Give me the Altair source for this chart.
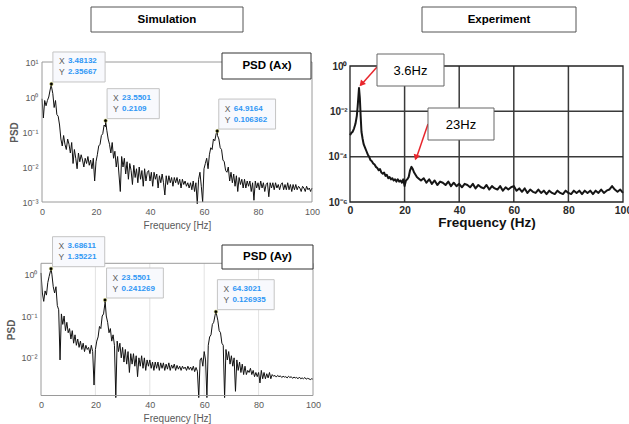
import altair as alt
import pandas as pd

W, H = 629, 424
FONT = "Liberation Sans"

# ---------------- data ----------------
FREQ_STEP = 0.5  # Hz between spectrum bins

# log10(PSD) of simulated Ax, 0..100 Hz every 0.5 Hz
AX_LOG = [
    -0.05, -0.60, -0.10, -0.25, -0.10, 0.00, 0.20, 0.30, 0.10, -0.30,
    -0.10, -0.50, -0.55, -0.80, -1.20, -1.40, -1.10, -1.35, -1.50, -1.20,
    -1.35, -1.60, -1.30, -1.90, -1.50, -1.75, -2.05, -1.60, -1.85, -1.65,
    -1.80, -2.00, -1.75, -1.90, -1.70, -1.95, -1.80, -2.05, -1.75, -2.40,
    -1.85, -1.65, -1.40, -1.35, -1.10, -1.05, -0.80, -0.85, -0.95, -1.20,
    -1.35, -1.60, -1.30, -1.75, -1.55, -2.00, -1.70, -2.20, -2.70, -1.70,
    -2.00, -1.75, -2.20, -1.85, -2.35, -1.90, -2.10, -2.50, -1.95, -2.30,
    -2.05, -2.45, -2.00, -2.35, -2.10, -2.55, -2.05, -2.40, -2.15, -2.10,
    -2.40, -2.15, -2.55, -2.15, -2.35, -2.20, -2.60, -2.25, -2.45, -2.20,
    -2.45, -2.80, -2.25, -2.50, -2.25, -2.45, -2.30, -2.55, -2.30, -2.45,
    -2.30, -2.50, -2.35, -2.60, -2.35, -2.50, -2.40, -2.55, -2.45, -2.60,
    -2.45, -2.65, -2.40, -2.70, -2.45, -3.05, -2.35, -2.15, -2.55, -3.00,
    -2.05, -1.90, -1.75, -2.05, -1.65, -1.45, -1.50, -1.20, -1.25, -1.05,
    -1.10, -1.20, -1.45, -1.50, -1.80, -1.85, -2.10, -2.15, -2.00, -2.40,
    -2.15, -2.45, -2.20, -2.55, -2.25, -2.70, -2.30, -2.50, -2.35, -2.60,
    -2.35, -2.60, -2.40, -2.55, -2.40, -2.70, -2.45, -2.95, -2.40, -2.60,
    -2.45, -2.65, -2.40, -2.60, -2.45, -2.70, -2.50, -2.45, -2.85, -2.45,
    -2.60, -2.45, -2.65, -2.45, -2.60, -2.50, -2.65, -2.50, -2.45, -2.65,
    -2.50, -2.65, -2.45, -2.65, -2.50, -2.70, -2.50, -2.65, -2.50, -2.65,
    -2.55, -2.60, -2.70, -2.55, -2.60, -2.70, -2.55, -2.65, -2.60, -2.70, -2.60,
]

# log10(PSD) of simulated Ay, 0..100 Hz every 0.5 Hz
AY_LOG = [
    0.03, -0.45, -0.65, -0.40, -0.50, -0.20, -0.05, 0.08, 0.00, -0.30,
    -0.45, -0.30, -0.75, -0.85, -2.05, -0.95, -1.20, -1.00, -1.35, -1.15,
    -1.40, -1.30, -1.55, -1.35, -1.65, -1.45, -1.70, -1.55, -1.75, -1.60,
    -1.80, -1.65, -1.85, -1.70, -1.80, -1.75, -1.90, -1.70, -1.85, -2.65,
    -1.80, -1.60, -1.50, -1.25, -1.30, -1.00, -0.95, -0.70, -1.00, -1.15,
    -1.40, -1.30, -1.60, -1.45, -1.70, -2.95, -1.60, -1.85, -1.65, -2.00,
    -1.75, -2.10, -1.80, -2.15, -1.85, -2.35, -1.90, -2.15, -1.90, -2.20,
    -1.95, -2.45, -2.00, -2.20, -1.95, -2.25, -2.00, -2.30, -2.05, -2.20,
    -2.05, -2.25, -2.10, -2.30, -2.10, -2.25, -2.10, -2.30, -2.12, -2.25,
    -2.12, -2.30, -2.15, -2.27, -2.12, -2.30, -2.17, -2.25, -2.15, -2.30,
    -2.18, -2.27, -2.20, -2.30, -2.20, -2.26, -2.22, -2.30, -2.20, -2.28,
    -2.22, -2.30, -2.20, -2.33, -2.23, -2.32, -2.95, -2.05, -2.00, -2.20,
    -1.85, -2.05, -2.95, -1.70, -1.50, -1.45, -1.20, -1.15, -0.98, -0.95,
    -1.10, -1.35, -1.40, -1.65, -1.70, -2.95, -1.80, -2.05, -1.85, -2.15,
    -1.95, -2.20, -2.00, -2.80, -2.05, -2.30, -2.10, -2.35, -2.15, -2.40,
    -2.20, -2.40, -2.30, -2.35, -2.25, -2.40, -2.30, -2.45, -2.35, -2.45,
    -2.35, -2.60, -2.30, -2.50, -2.35, -2.50, -2.38, -2.48, -2.35, -2.50,
    -2.40, -2.44, -2.42, -2.46, -2.42, -2.45, -2.43, -2.47, -2.44, -2.46,
    -2.45, -2.48, -2.44, -2.47, -2.45, -2.49, -2.46, -2.48, -2.47, -2.50,
    -2.46, -2.50, -2.48, -2.50, -2.47, -2.51, -2.49, -2.50, -2.52, -2.50, -2.51,
]

# data tips of the simulation
AX_PEAK_F = [3.48132, 23.5501, 64.9164]
AX_PEAK_V = [2.35667, 0.2109, 0.106362]
AY_PEAK_F = [3.68611, 23.5501, 64.3021]
AY_PEAK_V = [1.35221, 0.241269, 0.126935]

# experiment spectrum (frequency, log10 PSD)
EXP_F = [
    0, 0.5, 1, 1.5, 2, 2.5, 2.8, 3.1, 3.3, 3.6, 3.9, 4.2, 4.6, 5, 5.5, 6, 6.5,
    7, 7.5, 8, 8.5, 9, 9.5, 10, 10.5, 11, 11.5, 12, 12.5, 13, 13.5, 14, 14.5,
    15, 15.5, 16, 16.5, 17, 17.5, 18, 18.5, 19, 19.5, 20, 20.5, 21, 21.5, 22,
    22.5, 23, 23.5, 24, 24.5, 25, 26, 27, 28, 29, 30, 31, 32, 33, 34, 35, 36,
    37, 38, 39, 40, 41, 42, 43, 44, 45, 46, 47, 48, 49, 50, 51, 52, 53, 54, 55,
    56, 57, 58, 59, 60, 61, 62, 63, 64, 65, 66, 67, 68, 69, 70, 71, 72, 73, 74,
    75, 76, 77, 78, 79, 80, 81, 82, 83, 84, 85, 86, 87, 88, 89, 90, 91, 92, 93,
    94, 95, 96, 97, 98, 99, 100,
]
EXP_LOG = [
    -3.05, -2.95, -2.90, -2.75, -2.55, -2.20, -1.80, -1.30, -0.97, -1.40, -2.20,
    -2.90, -3.20, -3.45, -3.60, -3.75, -3.90, -4.00, -4.15, -4.20, -4.30, -4.35,
    -4.45, -4.50, -4.60, -4.55, -4.70, -4.75, -4.70, -4.85, -4.80, -4.95, -4.90,
    -5.00, -4.95, -5.05, -5.00, -5.10, -5.00, -5.10, -5.05, -5.15, -5.00, -5.30,
    -5.05, -5.00, -4.90, -4.60, -4.45, -4.55, -4.70, -4.80, -4.90, -4.95, -5.05,
    -4.95, -5.15, -5.00, -5.20, -5.05, -5.25, -5.10, -5.15, -5.25, -5.10, -5.30,
    -5.15, -5.30, -5.20, -5.35, -5.20, -5.25, -5.35, -5.20, -5.40, -5.25, -5.35,
    -5.40, -5.25, -5.45, -5.30, -5.40, -5.45, -5.30, -5.50, -5.35, -5.45, -5.35,
    -5.30, -5.50, -5.40, -5.55, -5.40, -5.60, -5.45, -5.55, -5.60, -5.45, -5.60,
    -5.50, -5.65, -5.50, -5.60, -5.65, -5.50, -5.60, -5.65, -5.50, -5.60, -5.65,
    -5.50, -5.60, -5.50, -5.65, -5.50, -5.60, -5.50, -5.65, -5.50, -5.60, -5.45,
    -5.60, -5.50, -5.45, -5.30, -5.45, -5.55, -5.45, -5.60,
]

X_TICKS = [0, 20, 40, 60, 80, 100]
GRID_F = [20, 40, 60, 80]
AX_Y_TICKS = [10, 1, 0.1, 0.01, 0.001]
AY_Y_TICKS = [1, 0.1, 0.01]
EXP_Y_TICKS = [1, 1e-2, 1e-4, 1e-6]
EXP_GRID_V = [1e-2, 1e-4]

SUP = ("'10' + (round(log(datum.value)/LN10) < 0 ? '\u207b' : '') + "
       "['\u2070','\u00b9','\u00b2','\u00b3','\u2074','\u2075','\u2076']"
       "[abs(round(log(datum.value)/LN10))]")


def curve_df(f, v):
    return pd.DataFrame({"f": f, "v": v}).sort_values("f")


ax_f = [i * FREQ_STEP for i in range(len(AX_LOG))] + AX_PEAK_F
ax_v = [10 ** l for l in AX_LOG] + AX_PEAK_V
ay_f = [i * FREQ_STEP for i in range(len(AY_LOG))] + AY_PEAK_F
ay_v = [10 ** l for l in AY_LOG] + AY_PEAK_V
ax_curve = curve_df(ax_f, ax_v)
ay_curve = curve_df(ay_f, ay_v)
exp_curve = curve_df(EXP_F, [10 ** l for l in EXP_LOG])


def tips_df(f, v):
    xs = [f"{a:.6g}" for a in f]
    ys = [f"{b:.6g}" for b in v]
    return pd.DataFrame({"f": f, "v": v, "xs": xs, "ys": ys})


def panel(curve, cfg, tips=None, grid_x=None, grid_y=None, psd_box=None):
    xs = alt.Scale(domain=[0, 100], range=cfg["xr"], nice=False, zero=False)
    ys = alt.Scale(type="log", domain=cfg["yd"], range=cfg["yr"], nice=False)
    xax = alt.Axis(orient="bottom", offset=cfg["yr"][0] - H, values=X_TICKS,
                   format="d", title=cfg["xtitle"], domain=False, ticks=False,
                   tickSize=0, grid=False, labelPadding=cfg["xlp"],
                   labelFlush=False, labelOverlap=False, labelFont=FONT,
                   labelFontSize=cfg["xls"], labelColor=cfg["lc"],
                   labelFontWeight=cfg["lw"], titleFont=FONT,
                   titleFontSize=cfg["xts"], titleColor=cfg["tc"],
                   titleFontWeight=cfg["lw"], titleY=cfg["xty"],
                   titleBaseline="middle")
    yax = alt.Axis(orient="left", offset=-cfg["xr"][0], values=cfg["yt"],
                   labelExpr=SUP, title=cfg["ytitle"], domain=False,
                   ticks=False, tickSize=0, grid=False, labelPadding=cfg["ylp"],
                   labelFlush=False, labelOverlap=False, labelFont=FONT,
                   labelFontSize=cfg["yls"], labelColor=cfg["lc"],
                   labelFontWeight=cfg["lw"], titleFont=FONT,
                   titleFontSize=10, titleColor=cfg["tc"],
                   titleX=cfg["ytx"], titleBaseline="middle")

    def X(field="f"):
        return alt.X(f"{field}:Q", scale=xs, axis=xax)

    def Y(field="v"):
        return alt.Y(f"{field}:Q", scale=ys, axis=yax)

    ymin, ymax = cfg["yd"]
    frame_df = pd.DataFrame({"f": [0], "f2": [100], "v": [ymin], "v2": [ymax]})
    layers = []
    if grid_x is not None:
        gdf = pd.DataFrame({"f": grid_x, "v": [ymin] * len(grid_x),
                            "v2": [ymax] * len(grid_x)})
        layers.append(alt.Chart(gdf).mark_rule(
            color=cfg["gc"], strokeWidth=cfg["gw"]).encode(
            x=X(), y=Y(), y2="v2:Q"))
    if grid_y is not None:
        gdf = pd.DataFrame({"v": grid_y, "f": [0] * len(grid_y),
                            "f2": [100] * len(grid_y)})
        layers.append(alt.Chart(gdf).mark_rule(
            color=cfg["gc"], strokeWidth=cfg["gw"]).encode(
            x=X(), x2="f2:Q", y=Y()))
    layers.append(alt.Chart(curve).mark_line(
        color=cfg["lcol"], strokeWidth=cfg["lwid"], clip=True,
        strokeJoin="round").encode(x=X(), y=Y(), order="f:Q"))
    layers.append(alt.Chart(frame_df).mark_rect(
        fillOpacity=0, stroke=cfg["fc"], strokeWidth=cfg["fw"]).encode(
        x=X(), x2="f2:Q", y=Y(), y2="v2:Q"))
    if tips is not None:
        for i in range(len(tips)):
            row = tips.iloc[[i]]
            n = max(len(row["xs"].iloc[0]), len(row["ys"].iloc[0]))
            w = 20 + 4.6 * n
            layers.append(alt.Chart(row).mark_rect(
                fill="#f8f9fd", stroke="#c4c4c4", strokeWidth=1,
                xOffset=1.5, x2Offset=1.5 + w, yOffset=-32, y2Offset=-2).encode(
                x=X(), x2="f:Q", y=Y(), y2="v:Q"))
        base = alt.Chart(tips)
        for dy, key, lab in ((-22.5, "xs", "X"), (-11.5, "ys", "Y")):
            layers.append(base.mark_text(
                text=lab, align="left", baseline="middle", dx=7.5, dy=dy,
                font=FONT, fontSize=8.5, color="#606060").encode(x=X(), y=Y()))
            layers.append(base.mark_text(
                align="left", baseline="middle", dx=16.5, dy=dy, font=FONT,
                fontSize=8, fontWeight="bold", color="#2f97f5").encode(
                x=X(), y=Y(), text=f"{key}:N"))
        layers.append(base.mark_circle(size=12, color="black", opacity=1,
                                       stroke="#c8c860", strokeWidth=0.5).encode(
            x=X(), y=Y()))
    if psd_box is not None:
        txt, xo, x2o, yo, y2o, dx, dy = psd_box
        layers.append(alt.Chart(frame_df).mark_rect(
            fill="white", stroke="#333", strokeWidth=1, xOffset=xo,
            x2Offset=x2o, yOffset=yo, y2Offset=y2o).encode(
            x=X("f2"), x2="f2:Q", y=Y("v2"), y2="v2:Q"))
        layers.append(alt.Chart(frame_df).mark_text(
            text=txt, font=FONT, fontSize=11.5, fontWeight="bold",
            color="black", align="center", baseline="middle", dx=dx,
            dy=dy).encode(x=X("f2"), y=Y("v2")))
    return alt.layer(*layers)


SIM = dict(lc="#5a5a5a", tc="#5a5a5a", lw="normal", xls=9, yls=9, xts=10,
           xlp=5, ylp=4, xty=23, fc="#9a9a9a", fw=1, gc="#e2e2e2", gw=1,
           lwid=1.0, lcol="#111111", xtitle="Frequency [Hz]", ytitle="PSD")

p1 = panel(ax_curve, dict(SIM, xr=[42, 312], yr=[202, 62], yd=[1e-3, 10],
                          yt=AX_Y_TICKS, ytx=-28),
           tips=tips_df(AX_PEAK_F, AX_PEAK_V),
           psd_box=("PSD (Ax)", -90, -1, -9, 17, -45, 4))
p2 = panel(ay_curve, dict(SIM, xr=[41, 313], yr=[395.5, 263.3],
                          yd=[10 ** -2.9, 10 ** 0.26], yt=AY_Y_TICKS, ytx=-30),
           tips=tips_df(AY_PEAK_F, AY_PEAK_V), grid_x=GRID_F,
           psd_box=("PSD (Ay)", -91, 0, -18.3, 5.7, -45.5, -6.3))
p3 = panel(exp_curve, dict(lc="#2a2a2a", tc="#111", lw="bold", xls=10.5, yls=10,
                           xts=13.5, xlp=3, ylp=3, xty=20, fc="#222", fw=1.3,
                           gc="#3a3a3a", gw=1.5, lwid=2.0, lcol="#161616",
                           xtitle="Frequency (Hz)",
                           ytitle="", xr=[350, 623], yr=[202, 66],
                           yd=[1e-6, 1], yt=EXP_Y_TICKS, ytx=-40),
           grid_x=GRID_F, grid_y=EXP_GRID_V)

# ---------------- annotations (pixel space) ----------------
one = pd.DataFrame({"k": [0]})


def box(x, x2, y, y2, stroke="#555"):
    return alt.Chart(one).mark_rect(fill="white", stroke=stroke,
                                    strokeWidth=1).encode(
        x=alt.value(x), x2=alt.value(x2), y=alt.value(y), y2=alt.value(y2))


def label(x, y, text, size, weight="normal"):
    return alt.Chart(one).mark_text(
        text=text, font=FONT, fontSize=size, fontWeight=weight, color="black",
        align="center", baseline="middle").encode(x=alt.value(x), y=alt.value(y))


RED = "#e8262c"


def arrow(x1, y1, x2, y2, hx, hy, ang):
    r = alt.Chart(one).mark_rule(color=RED, strokeWidth=1.5).encode(
        x=alt.value(x1), y=alt.value(y1), x2=alt.value(x2), y2=alt.value(y2))
    h = alt.Chart(one).mark_point(shape="triangle-up", filled=True, color=RED,
                                  opacity=1, size=45, angle=ang).encode(
        x=alt.value(hx), y=alt.value(hy))
    return [r, h]


deco = [
    box(91, 243, 7, 32), label(167, 19.5, "Simulation", 11.5, "bold"),
    box(422, 576, 7, 32), label(499, 19.5, "Experiment", 11.5, "bold"),
    *arrow(377, 67, 361, 85, 361.5, 84, 222),
    *arrow(428, 124, 416, 159, 416, 157.5, 199),
    box(377, 444, 54, 86, "#666"), label(410.5, 70.5, "3.6Hz", 13),
    box(428, 494, 108, 140, "#666"), label(461, 124.5, "23Hz", 13),
]

chart = alt.layer(p1, p2, p3, *deco).resolve_scale(
    x="independent", y="independent").properties(
    width=W, height=H, padding=0,
    autosize=alt.AutoSizeParams(type="none"), background="white",
).configure_view(stroke="transparent")

chart.save("out.html", embed_options={"renderer": "svg", "actions": False})
